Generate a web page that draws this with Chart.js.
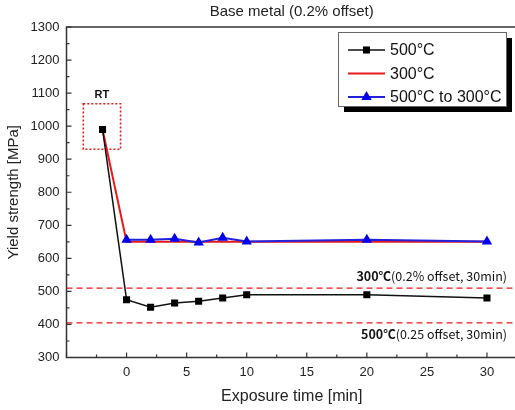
<!DOCTYPE html>
<html>
<head>
<meta charset="utf-8">
<script src="https://cdn.jsdelivr.net/npm/chart.js@4.4.1/dist/chart.umd.min.js"></script>
<style>
  html, body { margin: 0; padding: 0; background: #fff; overflow: hidden; }
  #wrap { width: 530px; height: 410px; }
</style>
</head>
<body>
<div id="wrap"><canvas id="yieldChart"></canvas></div>
<script>
// Yield strength vs exposure time
const times = [0, 2, 4, 6, 8, 10, 20, 30];
const rtTime = -2;
const rtStrength = 990;
const ys500 = [475, 452, 465, 470, 480, 490, 490, 480];
const ys300 = [650, 650, 650, 650, 650, 650, 650, 650];
const ys500to300 = [656, 656, 659, 648, 662, 651, 656, 651];
const xTickLabels = [0, 5, 10, 15, 20, 25, 30];
const yTickLabels = [300, 400, 500, 600, 700, 800, 900, 1000, 1100, 1200, 1300];
const seriesNames = ['500°C', '300°C', '500°C to 300°C'];
const refValues = [510, 405];
const refLabels = [['300℃', '(0.2% offset, 30min)'], ['500℃', '(0.25 offset, 30min)']];
const rtBox = { x1: -3.6, x2: -0.5, y1: 1068, y2: 930 };

const FONT = "'Liberation Sans', Arial, sans-serif";
const KFONT = "'Noto Sans CJK KR', 'Liberation Sans', sans-serif";
Chart.defaults.font.family = FONT;
Chart.defaults.color = '#222';

function pts(xs, ys) {
  return xs.map((x, i) => ({ x: x, y: ys[i] }));
}

function drawMarker(ctx, style, x, y, r, color) {
  ctx.save();
  ctx.fillStyle = color;
  ctx.beginPath();
  if (style === 'rect') {
    const s = r * Math.SQRT1_2;
    ctx.rect(x - s, y - s, 2 * s, 2 * s);
  } else if (style === 'triangle') {
    ctx.moveTo(x, y - r);
    ctx.lineTo(x + r * Math.sin(Math.PI * 2 / 3), y + r / 2);
    ctx.lineTo(x - r * Math.sin(Math.PI * 2 / 3), y + r / 2);
    ctx.closePath();
  }
  ctx.fill();
  ctx.restore();
}

// frame, inward ticks, reference lines, RT box, legend
const decorations = {
  id: 'decorations',
  beforeDatasetsDraw(chart) {
    const { ctx, chartArea: a, scales: { x, y } } = chart;
    ctx.save();
    ctx.strokeStyle = '#e8191c';
    ctx.lineWidth = 1.3;
    ctx.setLineDash([6, 4]);
    refValues.forEach((v) => {
      const py = y.getPixelForValue(v);
      ctx.beginPath();
      ctx.moveTo(a.left, py);
      ctx.lineTo(a.right, py);
      ctx.stroke();
    });
    // RT box
    ctx.setLineDash([2, 2]);
    ctx.lineWidth = 1.6;
    const bx1 = x.getPixelForValue(rtBox.x1), bx2 = x.getPixelForValue(rtBox.x2);
    const by1 = y.getPixelForValue(rtBox.y1), by2 = y.getPixelForValue(rtBox.y2);
    ctx.strokeRect(bx1, by1, bx2 - bx1, by2 - by1);
    ctx.setLineDash([]);
    ctx.fillStyle = '#111';
    ctx.font = 'bold 11px ' + FONT;
    ctx.textAlign = 'center';
    ctx.textBaseline = 'middle';
    ctx.fillText('RT', (bx1 + bx2) / 2, by1 - 9);

    // labels for the reference lines
    ctx.textBaseline = 'middle';
    ctx.textAlign = 'left';
    refValues.forEach((v, i) => {
      const py = y.getPixelForValue(v) + (i === 0 ? -12 : 11);
      ctx.font = 'bold 12.5px ' + KFONT;
      const w1 = ctx.measureText(refLabels[i][0]).width;
      ctx.font = '12.5px ' + KFONT;
      const w2 = ctx.measureText(refLabels[i][1]).width;
      const x0 = 507 - w1 - w2;
      ctx.font = 'bold 12.5px ' + KFONT;
      ctx.fillText(refLabels[i][0], x0, py);
      ctx.font = '12.5px ' + KFONT;
      ctx.fillText(refLabels[i][1], x0 + w1, py);
    });
    ctx.restore();
  },
  afterDraw(chart) {
    const { ctx, chartArea: a, scales: { x, y } } = chart;
    ctx.save();
    ctx.strokeStyle = '#333';
    ctx.lineWidth = 1.5;
    ctx.beginPath();
    ctx.moveTo(a.right + 5, a.top);
    ctx.lineTo(a.left, a.top);
    ctx.lineTo(a.left, a.bottom);
    ctx.lineTo(a.right + 5, a.bottom);
    ctx.stroke();
    ctx.lineWidth = 1.2;
    ctx.beginPath();
    for (let v = 300; v <= 1300; v += 50) {
      const py = y.getPixelForValue(v);
      const len = v % 100 === 0 ? 5 : 3;
      ctx.moveTo(a.left, py);
      ctx.lineTo(a.left + len, py);
    }
    for (let v = -5; v <= 32.5; v += 2.5) {
      const px = x.getPixelForValue(v);
      const len = v % 5 === 0 ? 5 : 3;
      ctx.moveTo(px, a.bottom);
      ctx.lineTo(px, a.bottom - len);
    }
    ctx.stroke();

    // legend box with drop shadow
    const lx = 338, ly = 32, lw = 168, lh = 74;
    ctx.fillStyle = '#000';
    ctx.fillRect(lx + 6, ly + 6, lw, lh);
    ctx.fillStyle = '#fff';
    ctx.fillRect(lx, ly, lw, lh);
    ctx.strokeStyle = '#666';
    ctx.lineWidth = 1;
    ctx.strokeRect(lx + 0.5, ly + 0.5, lw, lh);

    ctx.font = '16px ' + FONT;
    ctx.textBaseline = 'middle';
    ctx.textAlign = 'left';
    chart.data.datasets.forEach((ds, i) => {
      const ry = 50 + i * 23.5;
      ctx.strokeStyle = ds.borderColor;
      ctx.lineWidth = ds.borderWidth;
      ctx.beginPath();
      ctx.moveTo(348, ry);
      ctx.lineTo(385, ry);
      ctx.stroke();
      if (ds.pointRadius > 0) {
        drawMarker(ctx, ds.pointStyle, 366.5, ry, ds.pointRadius, ds.pointBackgroundColor);
      }
      ctx.fillStyle = '#111';
      ctx.fillText(ds.label, 390, ry + 1);
    });
    ctx.restore();
  }
};

const ctx = document.getElementById('yieldChart').getContext('2d');
new Chart(ctx, {
  type: 'line',
  data: {
    datasets: [
      {
        label: seriesNames[0],
        data: [{ x: rtTime, y: rtStrength }].concat(pts(times, ys500)),
        borderColor: '#111',
        borderWidth: 1.5,
        pointStyle: 'rect',
        pointRadius: 5,
        pointBackgroundColor: '#000',
        pointBorderWidth: 0,
        order: 0,
      },
      {
        label: seriesNames[1],
        data: [{ x: rtTime, y: rtStrength }].concat(pts(times, ys300)),
        borderColor: '#e8191c',
        borderWidth: 2,
        pointRadius: 0,
        order: 2,
      },
      {
        label: seriesNames[2],
        data: pts(times, ys500to300),
        borderColor: '#2222dd',
        borderWidth: 2,
        pointStyle: 'triangle',
        pointRadius: 6,
        pointBackgroundColor: '#0000ee',
        pointBorderWidth: 0,
        order: 1,
      },
    ],
  },
  options: {
    responsive: true,
    maintainAspectRatio: false,
    animation: false,
    layout: { padding: { left: 0, right: 13, top: 0, bottom: 0 } },
    plugins: {
      legend: { display: false },
      tooltip: { enabled: false },
      title: {
        display: true,
        fullSize: false,
        text: 'Base metal (0.2% offset)',
        color: '#222',
        font: { size: 15, weight: 'normal' },
        padding: { top: 3, bottom: 6 },
      },
    },
    scales: {
      x: {
        type: 'linear',
        min: -5,
        max: 32.5,
        grid: { display: false, drawTicks: false },
        border: { display: false },
        afterBuildTicks: (scale) => {
          scale.ticks = xTickLabels.map((v) => ({ value: v }));
        },
        ticks: {
          padding: 7,
          font: { size: 13 },
          color: '#222',
          callback: (v) => String(v),
        },
        title: {
          display: true,
          text: 'Exposure time [min]',
          font: { size: 16 },
          color: '#222',
          padding: { top: 0, bottom: 4 },
        },
        afterFit: (scale) => { scale.height = 52.5; },
      },
      y: {
        min: 300,
        max: 1300,
        grid: { display: false, drawTicks: false },
        border: { display: false },
        afterBuildTicks: (scale) => {
          scale.ticks = yTickLabels.map((v) => ({ value: v }));
        },
        ticks: { padding: 7, font: { size: 13 }, color: '#222', callback: (v) => String(v) },
        title: {
          display: true,
          text: 'Yield strength [MPa]',
          font: { size: 15 },
          color: '#222',
          padding: { top: 5, bottom: 0 },
        },
        afterFit: (scale) => { scale.width = 66.5; },
      },
    },
  },
  plugins: [decorations],
});
</script>
</body>
</html>
